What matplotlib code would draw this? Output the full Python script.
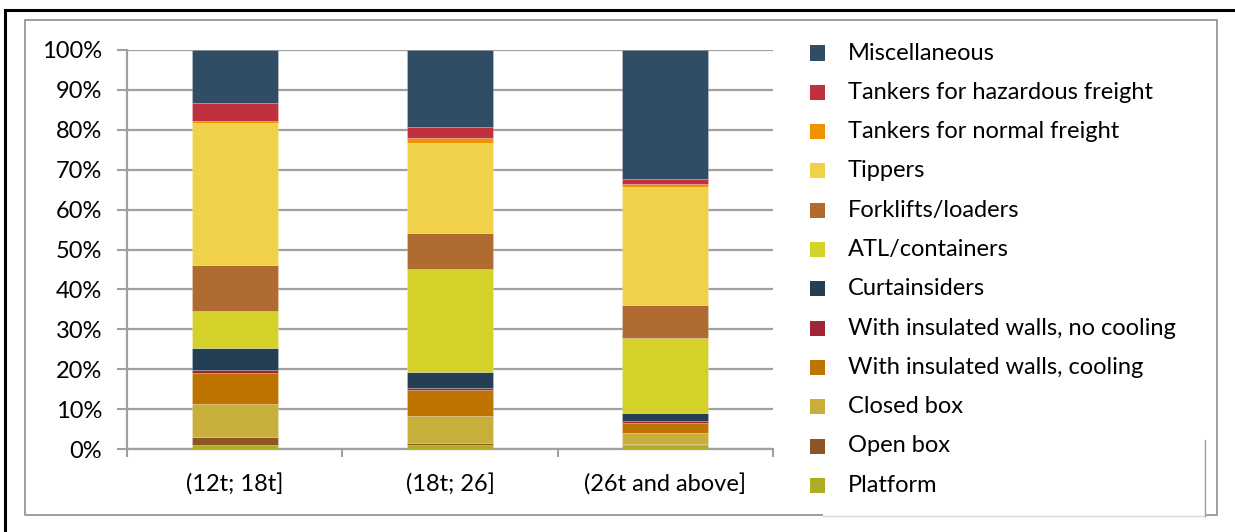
import matplotlib
matplotlib.use("Agg")
import matplotlib.pyplot as plt
from matplotlib.patches import Rectangle
from matplotlib.lines import Line2D
import numpy as np

# vehicle body type shares (%) per weight class, bottom to top of each stack
categories = ["(12t; 18t]", "(18t; 26]", "(26t and above]"]
body_types = ["Platform", "Open box", "Closed box",
              "With insulated walls, cooling", "With insulated walls, no cooling",
              "Curtainsiders", "ATL/containers", "Forklifts/loaders", "Tippers",
              "Tankers for normal freight", "Tankers for hazardous freight",
              "Miscellaneous"]
platform = [1.0, 1.0, 1.0]
open_box = [2.0, 0.6, 0.3]
closed_box = [8.3, 6.7, 2.7]
insulated_cooling = [7.8, 6.5, 2.6]
insulated_no_cooling = [0.7, 0.4, 0.4]
curtainsiders = [5.5, 4.1, 1.9]
atl_containers = [9.4, 25.8, 18.8]
forklifts_loaders = [11.4, 9.0, 8.4]
tippers = [35.5, 22.6, 29.5]
tankers_normal = [0.6, 1.2, 0.7]
tankers_hazardous = [4.4, 2.7, 1.3]
miscellaneous = [13.4, 19.4, 32.4]

series = [platform, open_box, closed_box, insulated_cooling, insulated_no_cooling,
          curtainsiders, atl_containers, forklifts_loaders, tippers,
          tankers_normal, tankers_hazardous, miscellaneous]
colors = ["#AFAE22", "#8C5524", "#C8AE3A", "#C07400", "#A02535",
          "#243F54", "#D3D12A", "#B06C30", "#EFD24A",
          "#EE9300", "#C0313F", "#304D65"]

W, H = 1235, 532
plt.rcParams["font.family"] = ["Lato", "DejaVu Sans"]
FS = 17

fig = plt.figure(figsize=(W / 100, H / 100), dpi=100)


def fx(px):
    return px / W


def fy(py):
    return 1 - py / H


# outer frame (top and left edges only) and inner chart frame
fig.add_artist(Line2D([fx(5), fx(5)], [fy(10), 0], color="black", lw=2.2))
fig.add_artist(Line2D([fx(5), 1], [fy(10), fy(10)], color="black", lw=2.2))
fig.add_artist(Rectangle((fx(25), fy(515)), fx(1217) - fx(25), fy(20) - fy(515),
                         fill=False, edgecolor="#8E8E8E", lw=1.2))

ax = fig.add_axes([fx(127), fy(449), fx(773) - fx(127), fy(50) - fy(449)])

x = np.arange(len(categories))
bottom = np.zeros(len(categories))
for vals, c in zip(series, colors):
    ax.bar(x, vals, width=0.4, bottom=bottom, color=c,
           edgecolor=(1, 1, 1, 0.35), linewidth=0.4, zorder=3)
    bottom += np.array(vals)

ax.set_xlim(-0.5, 2.5)
ax.set_ylim(0, 100)
ax.set_yticks(np.arange(0, 101, 10))
ax.set_yticklabels([f"{v}%" for v in range(0, 101, 10)], fontsize=FS)
ax.set_xticks(x)
ax.set_xticklabels(categories, fontsize=FS)
ax.set_xticks([-0.5, 0.5, 1.5, 2.5], minor=True)
ax.tick_params(axis="x", which="major", length=0, pad=18)
ax.tick_params(axis="x", which="minor", length=6, width=1.5, color="#A0A0A0")
ax.tick_params(axis="y", length=7, width=1.5, color="#A0A0A0", pad=11)
ax.grid(axis="y", color="#A0A0A0", lw=1.6, zorder=0)
for s in ["top", "right"]:
    ax.spines[s].set_visible(False)
for s in ["left", "bottom"]:
    ax.spines[s].set_color("#A0A0A0")
    ax.spines[s].set_linewidth(1.6)

# legend panel, white box lying over the bottom of the inner frame
fig.add_artist(Rectangle((fx(823), fy(516)), fx(1205) - fx(823), fy(440) - fy(516),
                         facecolor="white", edgecolor="none", zorder=5))
fig.add_artist(Line2D([fx(823), fx(1205)], [fy(516), fy(516)], color="#DADADA", lw=1, zorder=6))
fig.add_artist(Line2D([fx(1205), fx(1205)], [fy(440), fy(516)], color="#A0A0A0", lw=1, zorder=6))

row0, step = 53, 39.3
for i, (name, c) in enumerate(zip(body_types[::-1], colors[::-1])):
    yc = row0 + i * step
    fig.add_artist(Rectangle((fx(810), fy(yc + 7.5)), fx(15), 15 / H,
                             facecolor=c, edgecolor="none", zorder=7))
    fig.text(fx(848), fy(yc), name, fontsize=FS, va="center", ha="left", zorder=7)

fig.savefig("out.png", dpi=100)
